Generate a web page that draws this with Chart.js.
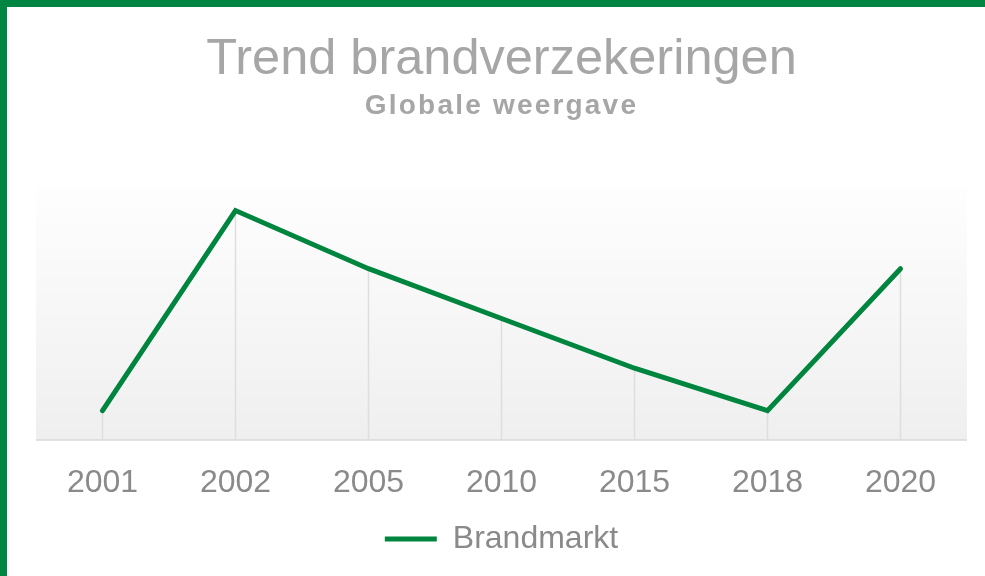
<!DOCTYPE html>
<html>
<head>
<meta charset="utf-8">
<script src="https://cdn.jsdelivr.net/npm/chart.js@4"></script>
<style>
  html, body { margin: 0; padding: 0; background: #fff; }
  #wrap { position: absolute; left: 0; top: 0; width: 978px; height: 569px;
          border-top: 7px solid #008542; border-left: 7px solid #008542; background: #fff; }
  canvas { display: block; }
</style>
</head>
<body>
<div id="wrap"><canvas id="c" width="978" height="569"></canvas></div>
<script>
const categories = ['2001', '2002', '2005', '2010', '2015', '2018', '2020'];
const brandmarkt = [11.4, 90.2, 67.3, 47.7, 28.1, 11.4, 67.3];
const seriesName = 'Brandmarkt';
const titleText = 'Trend brandverzekeringen';
const subtitleText = 'Globale weergave';

const GREEN = '#00853F';
const FONT = "'Liberation Sans', Arial, sans-serif";

const plotBg = {
  id: 'plotBg',
  beforeDatasetsDraw(chart) {
    const { ctx, chartArea: a } = chart;
    ctx.save();
    const g = ctx.createLinearGradient(0, a.top, 0, a.bottom);
    g.addColorStop(0, '#fefefe');
    g.addColorStop(1, '#efefef');
    ctx.fillStyle = g;
    ctx.fillRect(a.left, a.top, a.right - a.left, a.bottom - a.top);
    const meta = chart.getDatasetMeta(0);
    ctx.strokeStyle = '#dedede';
    ctx.lineWidth = 1.5;
    meta.data.forEach(pt => {
      ctx.beginPath();
      ctx.moveTo(pt.x, pt.y);
      ctx.lineTo(pt.x, a.bottom);
      ctx.stroke();
    });
    ctx.strokeStyle = '#d9d9d9';
    ctx.lineWidth = 1.5;
    ctx.beginPath();
    ctx.moveTo(a.left, a.bottom + 0.5);
    ctx.lineTo(a.right, a.bottom + 0.5);
    ctx.stroke();
    ctx.restore();
  }
};

const spacedSubtitle = {
  id: 'spacedSubtitle',
  afterLayout(chart) {
    chart.boxes.forEach(b => {
      if (b.options && b.options.text === subtitleText && !b._wrapped) {
        const orig = b.draw.bind(b);
        b.draw = function (area) {
          const ctx = this.ctx;
          const prev = ctx.letterSpacing;
          ctx.letterSpacing = '2.2px';
          orig(area);
          ctx.letterSpacing = prev || '0px';
        };
        b._wrapped = true;
      }
    });
  }
};

new Chart(document.getElementById('c'), {
  type: 'line',
  data: {
    labels: categories,
    datasets: [{
      label: seriesName,
      data: brandmarkt,
      borderColor: GREEN,
      backgroundColor: GREEN,
      borderWidth: 5,
      borderCapStyle: 'round',
      borderJoinStyle: 'miter',
      pointRadius: 0,
      pointHoverRadius: 0,
      tension: 0,
      fill: false
    }]
  },
  options: {
    responsive: false,
    animation: false,
    layout: { padding: { left: 29, right: 18, bottom: 11, top: 0 } },
    scales: {
      x: {
        offset: true,
        grid: { display: false, drawTicks: false },
        border: { display: false },
        ticks: { color: '#8a8a8a', font: { family: FONT, size: 32 }, padding: 24, maxRotation: 0 },
        afterFit(scale) { scale.height -= 4; }
      },
      y: {
        display: false,
        min: 0,
        max: 100
      }
    },
    plugins: {
      title: {
        display: true,
        text: titleText,
        color: '#a6a6a6',
        font: { family: FONT, size: 50.5, weight: 'normal', lineHeight: 1.15 },
        padding: { top: 24, bottom: 0 }
      },
      subtitle: {
        display: true,
        text: subtitleText,
        color: '#a6a6a6',
        font: { family: FONT, size: 28, weight: 'bold', lineHeight: 1.2 },
        padding: { top: 0, bottom: 63 }
      },
      legend: {
        position: 'bottom',
        labels: {
          color: '#8a8a8a',
          font: { family: FONT, size: 32 },
          usePointStyle: true,
          pointStyle: 'line',
          pointStyleWidth: 52,
          padding: 1
        }
      },
      tooltip: { enabled: false }
    }
  },
  plugins: [plotBg, spacedSubtitle]
});
</script>
</body>
</html>
